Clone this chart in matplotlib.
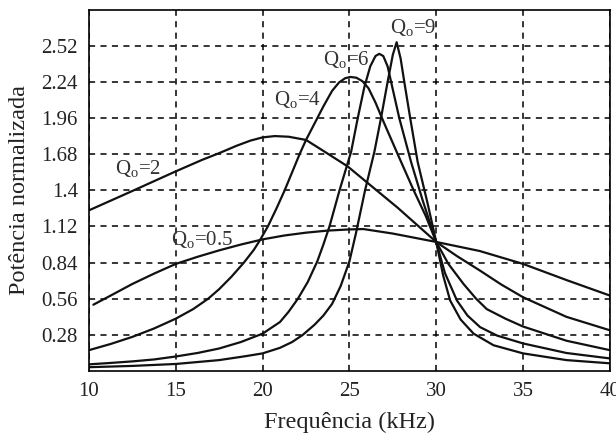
import matplotlib
matplotlib.use("Agg")
import matplotlib.pyplot as plt

plt.rcParams['font.family'] = ['Liberation Serif', 'DejaVu Serif']
plt.rcParams['mathtext.fontset'] = 'custom'
plt.rcParams['mathtext.rm'] = 'Liberation Serif'
plt.rcParams['mathtext.it'] = 'Liberation Serif:italic'

# Frequency (kHz) / normalized power readings for each quality factor
q05_f = [10.25, 11.25, 12.5, 13.75, 15, 16.25, 17.5, 18.75, 20, 21.25, 22.5, 23.75, 25, 25.8, 27.5, 30, 32.5, 35, 37.5, 40]
q05_p = [0.514, 0.585, 0.675, 0.755, 0.83, 0.885, 0.935, 0.98, 1.02, 1.05, 1.072, 1.088, 1.097, 1.10, 1.065, 1.0, 0.93, 0.83, 0.705, 0.585]

q2_f = [10, 12.5, 15, 16.5, 17.5, 18.5, 19.3, 20, 20.7, 21.5, 22.5, 23.56, 24.9, 26.05, 27.78, 30, 31.2, 32.5, 33.75, 35, 37.5, 40]
q2_p = [1.245, 1.395, 1.547, 1.635, 1.688, 1.745, 1.785, 1.81, 1.82, 1.815, 1.79, 1.70, 1.585, 1.457, 1.265, 1.0, 0.89, 0.78, 0.67, 0.572, 0.42, 0.316]

q4_f = [10, 11.25, 12.5, 13.75, 15, 16, 16.86, 17.5, 18.2, 18.92, 19.5, 19.83, 20.3, 20.8, 21.27, 21.7, 22.13, 22.5, 23.0, 23.5, 24.0, 24.4, 24.75, 25.05, 25.4, 25.75, 26.1, 26.5, 27.0, 27.78, 28.7, 29.4, 30, 30.7, 31.57, 32.3, 32.91, 34, 35, 37.5, 40]
q4_p = [0.162, 0.21, 0.265, 0.33, 0.406, 0.48, 0.56, 0.635, 0.73, 0.84, 0.94, 1.01, 1.12, 1.26, 1.4, 1.54, 1.68, 1.79, 1.92, 2.05, 2.17, 2.235, 2.268, 2.278, 2.272, 2.245, 2.19, 2.08, 1.92, 1.68, 1.4, 1.2, 1.0, 0.83, 0.675, 0.56, 0.48, 0.405, 0.345, 0.235, 0.162]

q6_f = [10, 11.25, 12.5, 13.75, 15, 16.25, 17.5, 18.75, 20, 21, 21.5, 22.03, 22.6, 23.15, 23.5, 23.85, 24.43, 25.1, 25.48, 25.86, 26.2, 26.5, 26.72, 26.95, 27.2, 27.4, 27.87, 28.55, 29.2, 30, 30.5, 31.19, 31.8, 32.53, 33.5, 35, 37.5, 40]
q6_p = [0.052, 0.063, 0.075, 0.09, 0.113, 0.14, 0.175, 0.225, 0.29, 0.38, 0.46, 0.56, 0.69, 0.85, 0.98, 1.12, 1.40, 1.70, 1.96, 2.20, 2.36, 2.44, 2.457, 2.44, 2.36, 2.24, 1.96, 1.62, 1.33, 1.0, 0.76, 0.547, 0.43, 0.34, 0.275, 0.214, 0.14, 0.098]

q9_f = [10, 12.5, 15, 17.5, 19, 20, 21, 21.7, 22.31, 23, 23.5, 24.0, 24.5, 25.0, 25.38, 25.9, 26.44, 26.82, 27.2, 27.5, 27.72, 27.95, 28.16, 28.5, 28.93, 29.5, 30, 30.4, 30.8, 31.4, 32.15, 33.3, 35, 37.5, 40]
q9_p = [0.03, 0.04, 0.055, 0.085, 0.115, 0.137, 0.18, 0.225, 0.28, 0.36, 0.43, 0.52, 0.66, 0.85, 1.07, 1.40, 1.70, 1.96, 2.24, 2.45, 2.547, 2.42, 2.24, 1.96, 1.62, 1.3, 1.0, 0.74, 0.547, 0.40, 0.29, 0.20, 0.137, 0.085, 0.06]

curves = [(q05_f, q05_p), (q2_f, q2_p), (q4_f, q4_p), (q6_f, q6_p), (q9_f, q9_p)]

labels = ["Q$_\\mathrm{o}$=0.5", "Q$_\\mathrm{o}$=2", "Q$_\\mathrm{o}$=4", "Q$_\\mathrm{o}$=6", "Q$_\\mathrm{o}$=9"]
label_pos = [(14.75, 1.02), (11.5, 1.57), (20.63, 2.10), (23.45, 2.41), (27.34, 2.66)]

x_ticks = [10, 15, 20, 25, 30, 35, 40]
y_ticks = [0.28, 0.56, 0.84, 1.12, 1.4, 1.68, 1.96, 2.24, 2.52]
y_tick_labels = ["0.28", "0.56", "0.84", "1.12", "1.4", "1.68", "1.96", "2.24", "2.52"]

fig = plt.figure(figsize=(6.16, 4.34), dpi=100)
ax = fig.add_axes([0.1445, 0.145, 0.8455, 0.833])

for f, p in curves:
    ax.plot(f, p, color='#111111', lw=1.6, solid_capstyle='round', solid_joinstyle='round')

for txt, (x, y) in zip(labels, label_pos):
    ax.text(x, y, txt, fontsize=15, color='#333333', ha='left', va='center')

ax.set_xlim(10, 40)
ax.set_ylim(0, 2.8)
ax.set_xticks(x_ticks)
ax.set_yticks(y_ticks)
ax.set_yticklabels(y_tick_labels)
ax.tick_params(axis='both', length=0, labelsize=15, pad=8, colors='#222222')
ax.grid(True, color='black', linestyle=(0, (4, 3.5)), lw=1.1)
for s in ax.spines.values():
    s.set_linewidth(1.2)
ax.set_xlabel("Frequência (kHz)", fontsize=17.5, color='#222222', labelpad=8)
ax.set_ylabel("Potência normalizada", fontsize=17.5, color='#222222', labelpad=8)

fig.savefig("out.png", dpi=100)
